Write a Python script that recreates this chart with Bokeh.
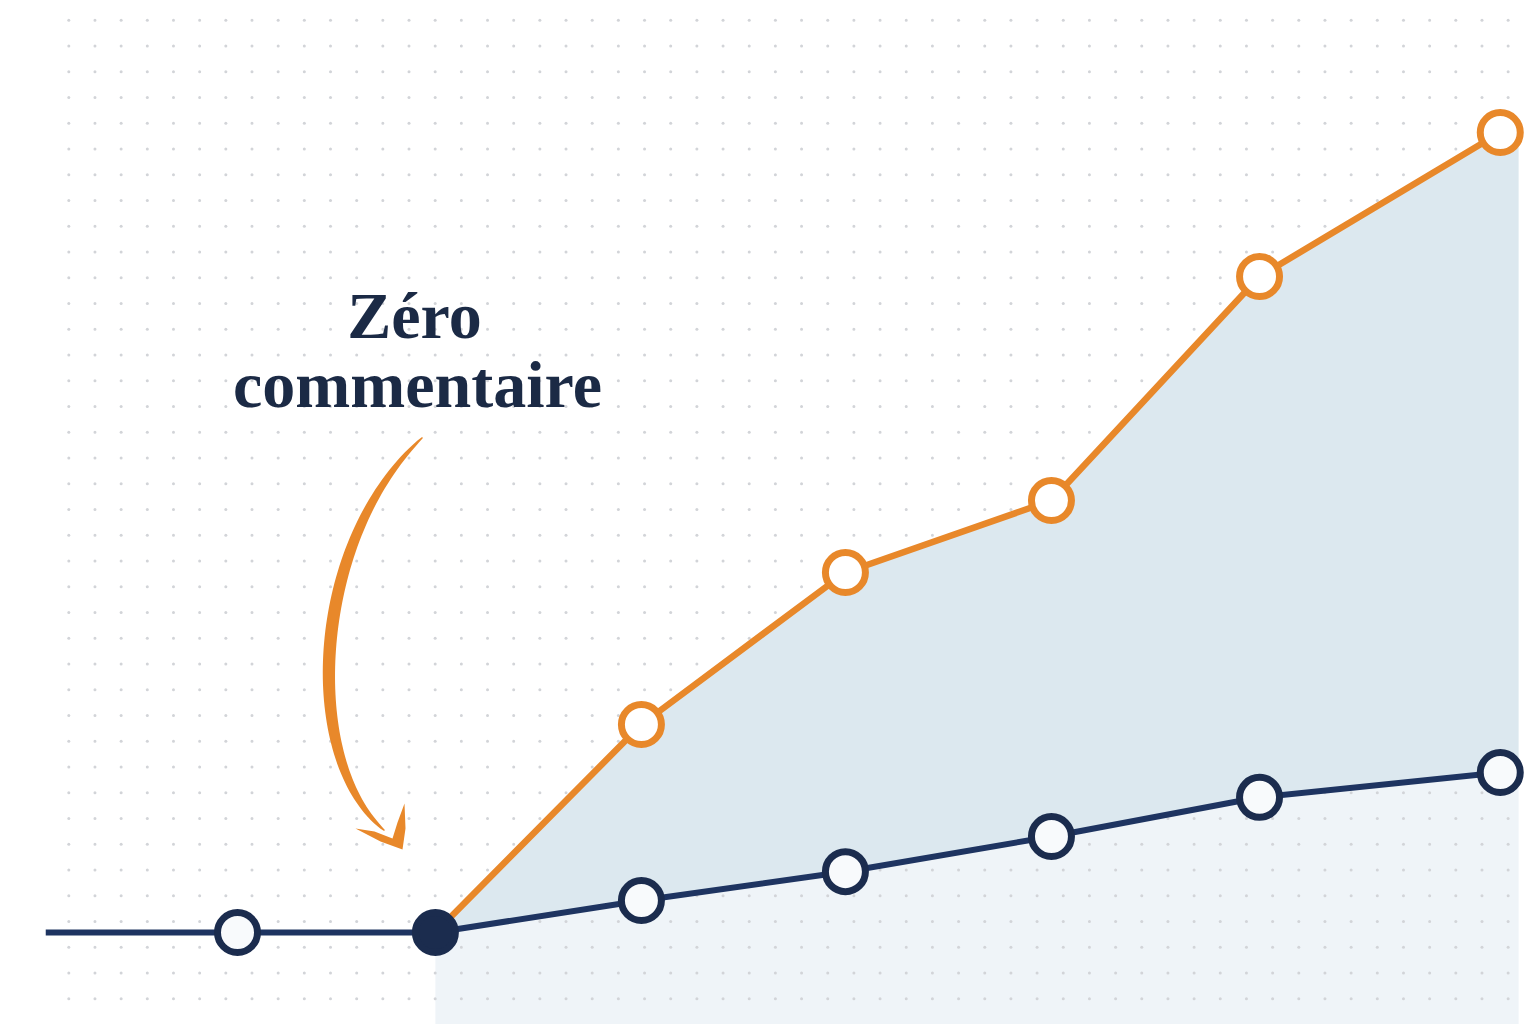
import numpy as np
from bokeh.embed import file_html
from bokeh.models import Label, Range1d
from bokeh.plotting import figure
from bokeh.resources import INLINE

# données (x : période, y : indice)
periods = [0.06, 1.0, 1.97, 2.98, 3.98, 4.99, 6.01, 7.19]
baseline = [0, 0, 0, 4, 7.6, 12, 16.9, 20]
boosted = [0, 26, 45, 54, 82, 100]  # à partir de la période 1.97
start_index = 2
fill_end = 7.28

NAVY = "#1E3461"
NAVY_DARK = "#1B2C4E"
ORANGE = "#E8882A"
BAND = "#DCE8EF"
LIGHT = "#EFF4F8"
DOT = "#D2D4D8"

# échelle de l'image : 204 px par période, 8 px par point d'indice
X0, XS = 33.0, 204.0
Y0, YS = 932.0, 8.0


def px(x, y):
    return (np.asarray(x, dtype=float) - X0) / XS, (Y0 - np.asarray(y, dtype=float)) / YS


W, H = 1536, 1024
x_lo, y_hi = px(0, 0)
x_hi, y_lo = px(W, H)

p = figure(
    width=W,
    height=H,
    x_range=Range1d(float(x_lo), float(x_hi)),
    y_range=Range1d(float(y_lo), float(y_hi)),
    x_axis_type=None,
    y_axis_type=None,
    output_backend="svg",
    toolbar_location=None,
    min_border=0,
)
p.outline_line_color = None
p.grid.visible = False
p.background_fill_color = "white"
p.border_fill_color = "white"

# zone claire sous la courbe de base
fx = periods[start_index:] + [fill_end]
base_f = baseline[start_index:] + [baseline[-1]]
top_f = boosted + [boosted[-1]]
p.varea(x=fx, y1=[y_lo] * len(fx), y2=base_f, fill_color=LIGHT)

# grille de points (décor)
gx = np.arange(68.3, 1530, 26.17)
gy = np.arange(19.7, 1020, 25.75)
mx, my = np.meshgrid(gx, gy)
dx, dy = px(mx.ravel(), my.ravel())
p.scatter(dx, dy, size=3, color=DOT, line_color=None)

# bande entre les deux courbes
p.varea(x=fx, y1=base_f, y2=top_f, fill_color=BAND)

# courbes
p.line(periods[start_index:], boosted, line_color=ORANGE, line_width=6.5)
p.line(periods, baseline, line_color=NAVY, line_width=6)

p.scatter(periods[start_index + 1:], boosted[1:], size=40, fill_color="white",
          line_color=ORANGE, line_width=7)
p.scatter(periods[1:2] + periods[start_index + 1:], baseline[1:2] + baseline[start_index + 1:],
          size=40, fill_color="#F8FAFC", line_color=NAVY_DARK, line_width=7)
p.scatter(periods[start_index:start_index + 1], baseline[start_index:start_index + 1],
          size=40, fill_color=NAVY_DARK, line_color=NAVY_DARK, line_width=7)

# flèche dessinée
t = np.linspace(0, 1, 80)
P = np.array([[422, 437], [310, 540], [300, 760], [384, 830]], dtype=float)
curve = ((1 - t) ** 3)[:, None] * P[0] + (3 * (1 - t) ** 2 * t)[:, None] * P[1] \
    + (3 * (1 - t) * t ** 2)[:, None] * P[2] + (t ** 3)[:, None] * P[3]
d = np.gradient(curve, axis=0)
n = np.stack([-d[:, 1], d[:, 0]], axis=1)
n /= np.linalg.norm(n, axis=1)[:, None]
half = 0.6 + 5.6 * np.sin(np.pi * t) ** 0.7
left = curve + n * half[:, None]
right = curve - n * half[:, None]
outline = np.vstack([left, right[::-1]])
ax_, ay_ = px(outline[:, 0], outline[:, 1])
p.patch(ax_, ay_, fill_color=ORANGE, line_color=None)

head = np.array([[355, 828], [374, 831], [392, 838], [397, 822], [404, 803],
                 [405, 828], [402, 849], [380, 841]], dtype=float)
hx, hy = px(head[:, 0], head[:, 1])
p.patch(hx, hy, fill_color=ORANGE, line_color=None)

# annotation
for txt, (tx, ty) in [("Zéro", (414, 315)), ("commentaire", (417, 384))]:
    lx, ly = px(tx, ty)
    p.add_layout(Label(x=float(lx), y=float(ly), text=txt, text_align="center",
                       text_baseline="alphabetic", text_font="Liberation Serif",
                       text_font_style="bold", text_font_size="66px",
                       text_color="#1B2A45"))

open("out.html", "w").write(file_html(p, INLINE))
